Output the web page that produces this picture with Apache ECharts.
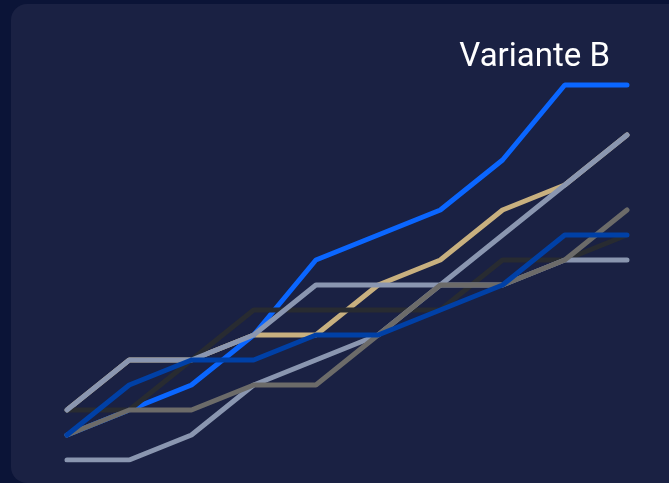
<!DOCTYPE html>
<html>
<head>
<meta charset="utf-8">
<script src="https://cdn.jsdelivr.net/npm/echarts@6/dist/echarts.min.js"></script>
<style>
html,body{margin:0;padding:0;background:#0b1437;}
#chart{width:669px;height:483px;}
</style>
</head>
<body>
<div id="chart"></div>
<script>
// Data
var categories = ['1','2','3','4','5','6','7','8','9','10'];
var tanSeries      = [2, 4, 4, 5, 5, 7, 8, 10, 11, 13];
var brightBlue     = [1, 2, 3, 5, 8, 9, 10, 12, 15, 15];
var darkSeries     = [2, 2, 4, 6, 6, 6, 6, 8, 8, 9];
var lightGrayB     = [0, 0, 1, 3, 4, 5, 7, 9, 11, 13];
var lightGrayA     = [2, 4, 4, 5, 7, 7, 7, 7, 8, 8];
var mediumGray     = [1, 2, 2, 3, 3, 5, 7, 7, 8, 10];
var darkBlue       = [1, 3, 4, 4, 5, 5, 6, 7, 9, 9];
var titleText = 'Variante B';

var seriesDefs = [
  {name: 'Serie A', data: tanSeries,  color: '#c8b07f'},
  {name: 'Serie B', data: brightBlue, color: '#0a66ff'},
  {name: 'Serie C', data: darkSeries, color: '#282b31'},
  {name: 'Serie D', data: lightGrayB, color: '#8a96b0'},
  {name: 'Serie E', data: lightGrayA, color: '#8a96b0'},
  {name: 'Serie F', data: mediumGray, color: '#6c6b69'},
  {name: 'Serie G', data: darkBlue,   color: '#0040a6'}
];

var chart = echarts.init(document.getElementById('chart'));
chart.setOption({
  animation: false,
  backgroundColor: '#0b1437',
  graphic: [{
    type: 'rect',
    z: -10,
    silent: true,
    shape: {x: 11, y: 4, width: 720, height: 479, r: 16},
    style: {fill: '#1a2143'}
  }],
  title: {
    text: titleText,
    right: 54,
    top: 36,
    textStyle: {color: '#ffffff', fontSize: 33, fontWeight: 'normal', fontFamily: 'Roboto'}
  },
  grid: {left: 67, right: 42, top: 60, bottom: 23},
  xAxis: {
    type: 'category',
    data: categories,
    boundaryGap: false,
    show: false
  },
  yAxis: {
    type: 'value',
    min: 0,
    max: 16,
    show: false
  },
  series: seriesDefs.map(function (s) {
    return {
      name: s.name,
      type: 'line',
      data: s.data,
      symbol: 'none',
      lineStyle: {width: 5, color: s.color, cap: 'round'},
      itemStyle: {color: s.color}
    };
  })
});
</script>
</body>
</html>
